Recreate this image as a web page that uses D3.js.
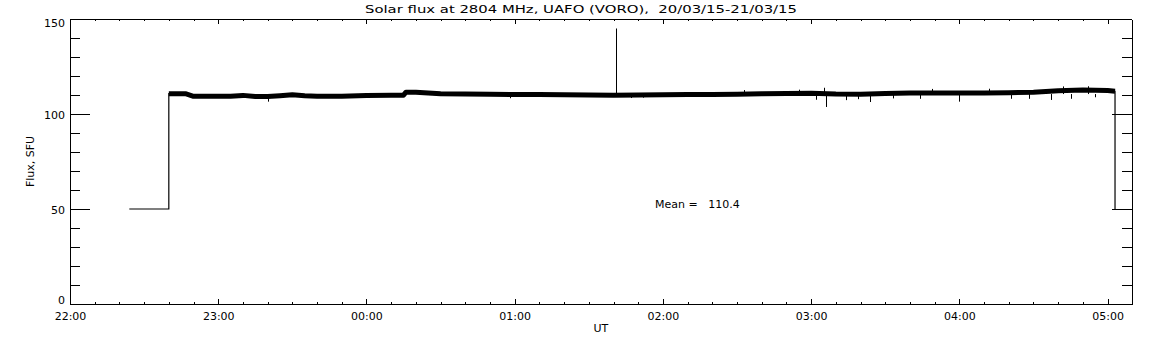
<html>
<head>
<script src="https://cdn.jsdelivr.net/npm/d3@7"></script>
<style>
    body { margin: 0; background: #fff; }
    text { font-family: "DejaVu Sans", sans-serif; font-size: 11px; fill: #000; }
</style>
</head>
<body>
<svg id="chart" width="1152" height="345"></svg>
<script>

    // flux record, UT (hh:mm), values in SFU
    const timeLabels = ["22:24", "22:40", "22:40", "22:47", "22:50", "23:00", "23:05", "23:10", "23:15", "23:20",
        "23:25", "23:30", "23:35", "23:40", "23:50", "00:00", "00:10", "00:15", "00:16", "00:20",
        "00:30", "00:40", "00:50", "01:00", "01:10", "01:20", "01:30", "01:40", "01:50", "02:00",
        "02:10", "02:20", "02:30", "02:40", "02:50", "03:00", "03:10", "03:20", "03:30", "03:40",
        "03:50", "04:00", "04:10", "04:20", "04:30", "04:40", "04:50", "05:00", "05:03", "05:03"]
    const fluxValues = [50, 50, 110.7, 110.6, 109.3, 109.4, 109.4, 109.8, 109.2, 109.2,
        109.6, 110.1, 109.6, 109.4, 109.4, 109.8, 109.9, 109.9, 111.5, 111.4,
        110.6, 110.5, 110.4, 110.3, 110.2, 110.1, 110.0, 109.9, 110.0, 110.1,
        110.2, 110.3, 110.4, 110.6, 110.8, 110.9, 110.5, 110.4, 110.8, 111.0,
        111.0, 111.1, 111.0, 111.2, 111.5, 112.2, 112.6, 112.4, 112.0, 50]

    // isolated spikes sticking out of the band
    const spikeTimes = ["23:20", "00:58", "01:41", "01:47", "01:52", "02:33", "02:55", "03:02", "03:05", "03:06",
        "03:14", "03:19", "03:24", "03:33", "03:44", "03:49", "04:00", "04:12", "04:21", "04:28",
        "04:37", "04:42", "04:45", "04:52", "04:55"]
    const spikeValues = [106.5, 108.3, 145, 108.4, 108.6, 112.6, 112.8, 107.5, 113.8, 103.7,
        107.3, 107.8, 106.3, 108.2, 108, 113.2, 106.5, 113.3, 108, 108,
        107.4, 114.5, 108, 114.6, 108.8]

    const yMajor = [0, 50, 100, 150]
    const meanValue = 110.4
    const title = "Solar flux at 2804 MHz, UAFO (VORO),  20/03/15-21/03/15"

    function toDate(s) {
        const [h, m] = s.split(':').map(Number)
        return new Date(Date.UTC(2015, 2, h >= 12 ? 20 : 21, h, m))
    }

    const margin = {left: 70, right: 1131.7, top: 19, bottom: 304}
    const svg = d3.select('#chart')

    const x = d3.scaleUtc()
        .domain([new Date(Date.UTC(2015, 2, 20, 22, 0)), new Date(Date.UTC(2015, 2, 21, 5, 9, 45))])
        .range([margin.left, margin.right])
    const y = d3.scaleLinear().domain([0, 150]).range([margin.bottom, margin.top])

    const fmt = d3.utcFormat('%H:%M')

    // x axes, ticks pointing into the plot
    svg.append('g')
        .attr('transform', `translate(0,${margin.bottom})`)
        .call(d3.axisBottom(x).ticks(d3.utcMinute.every(10)).tickSize(-2).tickSizeOuter(0).tickFormat(''))
    svg.append('g')
        .attr('transform', `translate(0,${margin.bottom})`)
        .call(d3.axisBottom(x).ticks(d3.utcHour.every(1)).tickSize(-5).tickSizeOuter(0).tickPadding(8).tickFormat(fmt))
    svg.append('g')
        .attr('transform', `translate(0,${margin.top})`)
        .call(d3.axisTop(x).ticks(d3.utcMinute.every(10)).tickSize(-2).tickSizeOuter(0).tickFormat(''))
    svg.append('g')
        .attr('transform', `translate(0,${margin.top})`)
        .call(d3.axisTop(x).ticks(d3.utcHour.every(1)).tickSize(-5).tickSizeOuter(0).tickFormat(''))

    // y axes
    svg.append('g')
        .attr('transform', `translate(${margin.left},0)`)
        .call(d3.axisLeft(y).ticks(15).tickSize(-10).tickSizeOuter(0).tickFormat(''))
    const yLeft = svg.append('g')
        .attr('transform', `translate(${margin.left},0)`)
        .call(d3.axisLeft(y).tickValues(yMajor).tickSize(-20).tickSizeOuter(0).tickPadding(5))
    svg.append('g')
        .attr('transform', `translate(${margin.right},0)`)
        .call(d3.axisRight(y).ticks(15).tickSize(-10).tickSizeOuter(0).tickFormat(''))
    svg.append('g')
        .attr('transform', `translate(${margin.right},0)`)
        .call(d3.axisRight(y).tickValues(yMajor).tickSize(-20).tickSizeOuter(0).tickFormat(''))

    // keep end labels inside the frame like the original
    yLeft.selectAll('.tick text')
        .attr('y', d => d === 150 ? 4 : d === 0 ? -4 : 1)

    svg.selectAll('.domain, .tick line')
        .attr('stroke', '#000')
        .attr('shape-rendering', 'crispEdges')
    svg.selectAll('.tick text')
        .style('font-family', '"DejaVu Sans", sans-serif')
        .style('font-size', '11px')
        .attr('fill', '#000')

    const points = timeLabels.map((t, i) => ({t: toDate(t), v: fluxValues[i]}))

    const lineFn = d3.line()
        .x(d => x(d.t))
        .y(d => y(d.v))
        .curve(d3.curveLinear)

    // thin outline incl. the 50 SFU off-sun parts
    svg.append('path')
        .attr('d', lineFn(points))
        .attr('fill', 'none')
        .attr('stroke', '#000')
        .attr('stroke-width', 1.2)

    // noisy band, drawn as thick stroke
    svg.append('path')
        .attr('d', lineFn(points.slice(2, points.length - 1)))
        .attr('fill', 'none')
        .attr('stroke', '#000')
        .attr('stroke-width', 5)
        .attr('stroke-linejoin', 'round')

    svg.selectAll('.spike')
        .data(spikeTimes.map((t, i) => ({t: toDate(t), v: spikeValues[i]})))
        .enter().append('line')
        .attr('class', 'spike')
        .attr('x1', d => Math.round(x(d.t)) + 0.5)
        .attr('x2', d => Math.round(x(d.t)) + 0.5)
        .attr('y1', y(110.5))
        .attr('y2', d => y(d.v))
        .attr('stroke', '#000')
        .attr('stroke-width', 1)

    // texts
    svg.append('text')
        .attr('x', 365)
        .attr('y', 13)
        .attr('textLength', 432)
        .attr('lengthAdjust', 'spacingAndGlyphs')
        .style('white-space', 'pre')
        .text(title)

    svg.append('text')
        .attr('x', (margin.left + margin.right) / 2)
        .attr('y', 332)
        .attr('text-anchor', 'middle')
        .text('UT')

    svg.append('text')
        .attr('transform', `translate(34,${(margin.top + margin.bottom) / 2}) rotate(-90)`)
        .attr('text-anchor', 'middle')
        .text('Flux, SFU')

    svg.append('text')
        .attr('x', 655)
        .attr('y', 208)
        .style('white-space', 'pre')
        .text('Mean =   ' + meanValue.toFixed(1))

</script>
</body>
</html>
